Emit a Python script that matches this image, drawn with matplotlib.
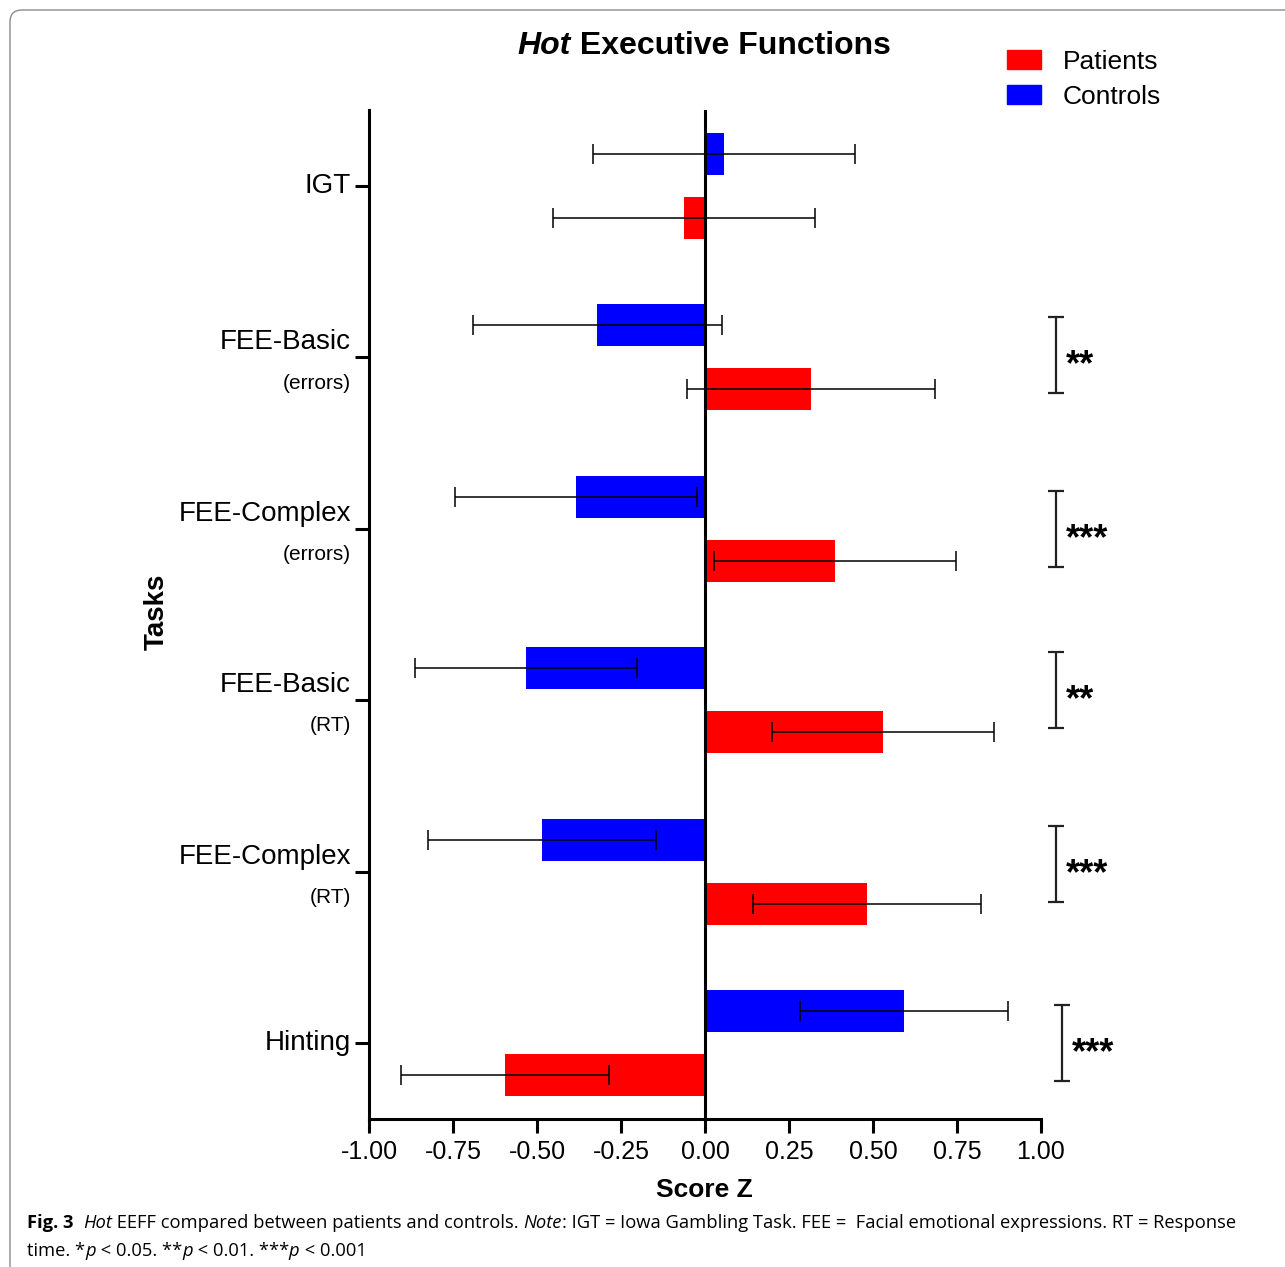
import numpy as np
import matplotlib
matplotlib.use("Agg")
import matplotlib.pyplot as plt
from matplotlib.patches import Patch, FancyBboxPatch
from matplotlib import transforms

plt.rcParams['font.family'] = ['Liberation Sans', 'DejaVu Sans']
plt.rcParams['axes.unicode_minus'] = False

# data (z scores, mean +/- error)
tasks = ["IGT", "FEE-Basic", "FEE-Complex", "FEE-Basic", "FEE-Complex", "Hinting"]
task_notes = ["", "(errors)", "(errors)", "(RT)", "(RT)", ""]
controls = [0.057, -0.320, -0.385, -0.533, -0.485, 0.592]
controls_err = [0.39, 0.37, 0.36, 0.33, 0.34, 0.31]
patients = [-0.063, 0.315, 0.386, 0.530, 0.482, -0.595]
patients_err = [0.39, 0.37, 0.36, 0.33, 0.34, 0.31]

sig_rows = [1, 2, 3, 4, 5]
sig_marks = ["**", "***", "**", "***", "***"]
sig_centers = [-0.015, 0.0, -0.06, -0.045, 0.0]

xticks = [-1.0, -0.75, -0.5, -0.25, 0.0, 0.25, 0.5, 0.75, 1.0]

W, H = 1285, 1267
fig = plt.figure(figsize=(W / 100, H / 100), dpi=100)
ax = fig.add_axes([369 / W, 148 / H, 672 / W, 1009 / H])

pos = np.arange(len(tasks))
bh = 0.245
off = 0.186
ekw = dict(ecolor='black', elinewidth=1.1, capsize=7.2, capthick=1.1)
ax.barh(pos - off, controls, bh, xerr=controls_err, color='#0000FF',
        error_kw=ekw, zorder=2)
ax.barh(pos + off, patients, bh, xerr=patients_err, color='#FF0000',
        error_kw=ekw, zorder=2)
ax.axvline(0, color='black', lw=2.2, zorder=3)

ax.set_xlim(-1, 1)
ax.set_ylim(5.443, -0.443)
ax.set_xticks(xticks)
ax.set_xticklabels(["%.2f" % v for v in xticks], fontsize=18)
ax.set_yticks(pos)
ax.set_yticklabels([])
ax.tick_params(axis='both', width=2.2, length=10, direction='out')
ax.tick_params(axis='x', pad=5)
for s in ['top', 'right']:
    ax.spines[s].set_visible(False)
for s in ['left', 'bottom']:
    ax.spines[s].set_linewidth(2.2)

ylab_x = (351 - 369) / 672
for i, (name, note) in enumerate(zip(tasks, task_notes)):
    if note:
        ax.text(ylab_x, i - 0.088, name, transform=ax.get_yaxis_transform(),
                ha='right', va='center', fontsize=20)
        ax.text(ylab_x, i + 0.150, note, transform=ax.get_yaxis_transform(),
                ha='right', va='center', fontsize=15)
    else:
        ax.text(ylab_x, i, name, transform=ax.get_yaxis_transform(),
                ha='right', va='center', fontsize=20)

# significance brackets
for r, m, c in zip(sig_rows, sig_marks, sig_centers):
    bx = 1.0625 if r == 5 else 1.045
    ax.errorbar([bx], [r + c], yerr=[0.222], fmt='none', ecolor='#222222',
                elinewidth=1.6, capsize=5.5, capthick=1.6, clip_on=False)
    ax.text(bx + 0.028, r + c, m, fontsize=26, fontweight='bold',
            ha='left', va='center_baseline', clip_on=False,
            transform=transforms.offset_copy(ax.transData, fig=fig, x=0, y=-7, units='dots'))

ax.set_xlabel("Score Z", fontsize=19, fontweight='bold', va='center')
ax.xaxis.set_label_coords(0.4985, -0.0704)
ax.set_ylabel("Tasks", fontsize=20, fontweight='bold', va='center')
ax.yaxis.set_label_coords((157 - 369) / 672, 0.5025)

handles = [Patch(color='#FF0000', label='Patients'),
           Patch(color='#0000FF', label='Controls')]
fig.legend(handles=handles, loc='upper left', bbox_to_anchor=(1007 / W, 1 - 50 / H),
           frameon=False, fontsize=19, handlelength=1.3, handleheight=0.72,
           handletextpad=0.8, labelspacing=0.42, borderpad=0, borderaxespad=0)

# border of the figure panel
fig.add_artist(FancyBboxPatch((10 / 100, -0.3), 13.2, (H - 10) / 100 + 0.3,
                              boxstyle="round,pad=0,rounding_size=0.12",
                              transform=fig.dpi_scale_trans, fill=False,
                              edgecolor='#8a8a8a', lw=1.0))

renderer = fig.canvas.get_renderer()
px = transforms.IdentityTransform()


def piece_width(s, **kw):
    a = fig.text(0, 0, "x" + s + "x", transform=px, **kw)
    b = fig.text(0, 0, "xx", transform=px, **kw)
    w = a.get_window_extent(renderer).width - b.get_window_extent(renderer).width
    a.remove()
    b.remove()
    return w


def draw_pieces(pieces, x, y, size, family, ha='left'):
    widths = [piece_width(s, fontsize=size, family=family, **st) for s, st in pieces]
    if ha == 'center':
        x = x - sum(widths) / 2
    for (s, st), w in zip(pieces, widths):
        fig.text(x, y, s, transform=px, fontsize=size, family=family,
                 va='baseline', **st)
        x += w
    return sum(widths)


N = {}
B = dict(fontweight='bold')
I = dict(fontstyle='italic')
BI = dict(fontweight='bold', fontstyle='italic')

title = [("Hot", BI), (" Executive Functions", B)]
draw_pieces(title, 704, H - 54, 23, ['Liberation Sans', 'DejaVu Sans'], ha='center')

cap_family = ['Open Sans', 'DejaVu Sans']
line1 = [("Fig. 3", B), ("  ", N), ("Hot", I),
         (" EEFF compared between patients and controls. ", N), ("Note", I),
         (": IGT = Iowa Gambling Task. FEE =  Facial emotional expressions. RT = Response", N)]
line2 = [("time. *", N), ("p", I), (" < 0.05. **", N), ("p", I),
         (" < 0.01. ***", N), ("p", I), (" < 0.001", N)]
w10 = sum(piece_width(s, fontsize=10, family=cap_family, **st) for s, st in line1)
cap_size = 10 * (1233 - 27) / w10
draw_pieces(line1, 27, H - 1228, cap_size, cap_family)
draw_pieces(line2, 27, H - 1256, cap_size, cap_family)

fig.savefig("out.png", dpi=100)
